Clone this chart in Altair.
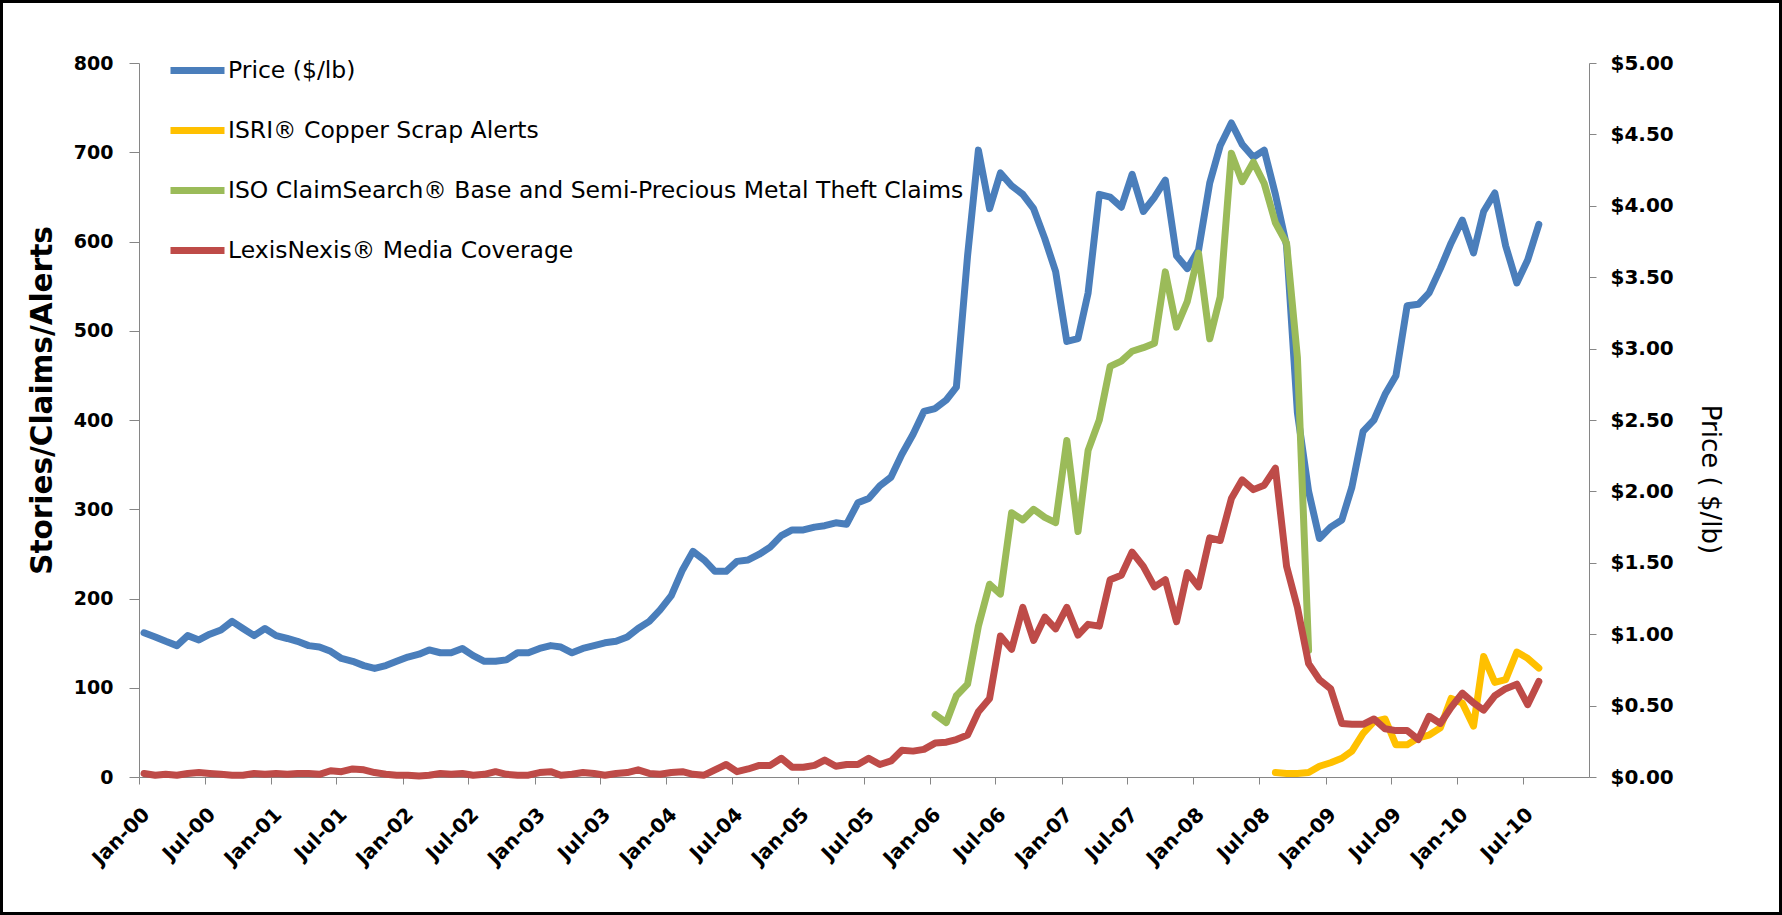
import altair as alt
import pandas as pd

# Series names and colours
SERIES = [
    "Price ($/lb)",
    "ISRI® Copper Scrap Alerts",
    "ISO ClaimSearch® Base and Semi-Precious Metal Theft Claims",
    "LexisNexis® Media Coverage",
]
COLORS = ["#4A7EBB", "#FFC000", "#9BBB59", "#BE4B48"]

# Monthly copper price, $/lb, Jan 2000 - Aug 2010
price = [
    1.01, 0.98, 0.95, 0.92, 0.99, 0.96, 1.00, 1.03, 1.09, 1.04, 0.99, 1.04,
    0.99, 0.97, 0.95, 0.92, 0.91, 0.88, 0.83, 0.81, 0.78, 0.76, 0.78, 0.81,
    0.84, 0.86, 0.89, 0.87, 0.87, 0.90, 0.85, 0.81, 0.81, 0.82, 0.87, 0.87,
    0.90, 0.92, 0.91, 0.87, 0.90, 0.92, 0.94, 0.95, 0.98, 1.04, 1.09, 1.17,
    1.27, 1.45, 1.58, 1.52, 1.44, 1.44, 1.51, 1.52, 1.56, 1.61, 1.69, 1.73,
    1.73, 1.75, 1.76, 1.78, 1.77, 1.92, 1.95, 2.04, 2.10, 2.26, 2.40, 2.56,
    2.58, 2.64, 2.73, 3.65, 4.39, 3.98, 4.23, 4.14, 4.08, 3.98, 3.77, 3.54,
    3.05, 3.07, 3.39, 4.08, 4.06, 3.99, 4.22, 3.96, 4.06, 4.18, 3.65, 3.56,
    3.69, 4.16, 4.42, 4.58, 4.43, 4.34, 4.39, 4.08, 3.72, 2.55, 2.00, 1.67,
    1.75, 1.80, 2.03, 2.42, 2.50, 2.68, 2.81, 3.30, 3.31, 3.39, 3.56, 3.74,
    3.90, 3.67, 3.96, 4.09, 3.72, 3.46, 3.62, 3.87,
]

# ISRI copper scrap alerts, Aug 2008 - Aug 2010
isri = [
    5, 4, 4, 5, 12, 16, 21, 29, 49, 62, 65, 36, 36, 44, 47, 55, 88, 83,
    57, 135, 106, 109, 140, 133, 122,
]

# ISO ClaimSearch metal theft claims, Jan 2006 - Dec 2008
iso = [
    70, 61, 91, 104, 169, 216, 205, 296, 288, 300, 291, 285,
    377, 275, 366, 400, 460, 466, 477, 481, 486, 566, 504, 533,
    587, 491, 538, 699, 667, 689, 665, 621, 598, 470, 142,
]

# LexisNexis media stories, Jan 2000 - Aug 2010
lexis = [
    4, 2, 3, 2, 4, 5, 4, 3, 2, 2, 4, 3, 4, 3, 4, 4, 3, 7, 6, 9, 8, 5, 3, 2,
    2, 1, 2, 4, 3, 4, 2, 3, 6, 3, 2, 2, 5, 6, 2, 3, 5, 4, 2, 4, 5, 8, 4, 3,
    5, 6, 3, 2, 8, 14, 6, 9, 13, 13, 21, 11, 11, 13, 19, 12, 14, 14, 21, 14,
    18, 30, 29, 31, 38, 39, 42, 47, 73, 88, 158, 143, 190, 153, 179, 166,
    190, 159, 171, 169, 221, 226, 252, 236, 213, 221, 174, 229, 213, 268,
    265, 312, 333, 322, 327, 346, 236, 190, 127, 109, 99, 60, 59, 59, 65,
    54, 52, 52, 42, 68, 60, 78, 94, 83, 75, 91, 99, 104, 81, 107,
]


def monthly(start, values, name):
    """One row per month, dated mid-month."""
    dates = pd.date_range(start, periods=len(values), freq="MS") + pd.Timedelta(days=14)
    return pd.DataFrame({"date": dates.strftime("%Y-%m-%d"), "value": values, "series": name})


df_price = monthly("2000-01-01", price, SERIES[0])
df_isri = monthly("2008-08-01", isri, SERIES[1])
df_iso = monthly("2006-01-01", iso, SERIES[2])
df_lexis = monthly("2000-01-01", lexis, SERIES[3])

FONT = "DejaVu Sans"
AXIS_GREY = "#868686"

tick_dates = [
    alt.DateTime(year=y, month=mo, date=1, utc=True)
    for y in range(2000, 2011)
    for mo in (1, 7)
]

x_enc = alt.X(
    "date:T",
    scale=alt.Scale(
        type="utc",
        domain=[
            alt.DateTime(year=2000, month=1, date=1, utc=True),
            alt.DateTime(year=2011, month=1, date=1, utc=True),
        ],
    ),
    axis=alt.Axis(
        values=tick_dates,
        format="%b-%y",
        labelAngle=-45,
        labelAlign="right",
        labelBaseline="top",
        labelPadding=20,
        labelFont=FONT,
        labelFontWeight="bold",
        labelFontSize=20,
        labelColor="black",
        tickSize=7,
        tickColor=AXIS_GREY,
        domainColor=AXIS_GREY,
        grid=False,
        labelOverlap=False,
        labelFlush=False,
    ),
    title=None,
)

color_enc = alt.Color(
    "series:N",
    scale=alt.Scale(domain=SERIES, range=COLORS),
    legend=alt.Legend(
        orient="none",
        legendX=28,
        legendY=-23,
        title=None,
        symbolType="stroke",
        symbolSize=2916,
        symbolStrokeWidth=7,
        labelFont=FONT,
        labelFontSize=23.5,
        labelColor="black",
        labelOffset=0,
        rowPadding=15,
        padding=0,
        labelLimit=0,
    ),
)


def line(df):
    return alt.Chart(df).mark_line(strokeWidth=7, strokeJoin="round", strokeCap="round")


price_line = line(df_price).encode(
    x=x_enc,
    y=alt.Y(
        "value:Q",
        scale=alt.Scale(domain=[0, 5]),
        axis=alt.Axis(
            orient="right",
            values=[i * 0.5 for i in range(11)],
            format="$.2f",
            labelFont=FONT,
            labelFontWeight="bold",
            labelFontSize=20,
            labelColor="black",
            labelPadding=14,
            tickSize=7,
            tickColor=AXIS_GREY,
            domainColor=AXIS_GREY,
            grid=False,
            title="Price ( $/lb)",
            titleFont=FONT,
            titleFontSize=26,
            titleFontWeight="normal",
            titleColor="black",
            titleAngle=90,
            titleBaseline="middle",
            titleX=120,
            titleY=416,
        ),
    ),
    color=color_enc,
)

count_axis = alt.Axis(
    orient="left",
    values=list(range(0, 801, 100)),
    labelFont=FONT,
    labelFontWeight="bold",
    labelFontSize=19,
    labelColor="black",
    labelPadding=16,
    tickSize=10,
    tickColor=AXIS_GREY,
    domainColor=AXIS_GREY,
    grid=False,
    title="Stories/Claims/Alerts",
    titleFont=FONT,
    titleFontSize=29.5,
    titleFontWeight="bold",
    titleColor="black",
    titleAngle=-90,
    titleBaseline="middle",
    titleX=-97,
    titleY=337,
)
count_y = alt.Y("value:Q", scale=alt.Scale(domain=[0, 800]), axis=count_axis)

counts = alt.layer(
    line(df_isri).encode(x=x_enc, y=count_y, color=color_enc),
    line(df_iso).encode(x=x_enc, y=count_y, color=color_enc),
    line(df_lexis).encode(x=x_enc, y=count_y, color=color_enc),
)

# Black frame around the whole figure
frame = alt.Chart(pd.DataFrame({"k": [0]})).mark_rect(
    fill=None, stroke="black", strokeWidth=3
).encode(
    x=alt.value(-137.5), x2=alt.value(1641.5),
    y=alt.value(-61.5), y2=alt.value(850.5),
)

chart = (
    alt.layer(price_line, counts, frame)
    .resolve_scale(y="independent")
    .properties(
        width=1450,
        height=714,
        autosize=alt.AutoSizeParams(type="none"),
        padding={"left": 139, "top": 63, "right": 193, "bottom": 138},
        background="white",
    )
    .configure_view(stroke=None)
)

chart.save("out.html", embed_options={"renderer": "svg", "actions": False})
